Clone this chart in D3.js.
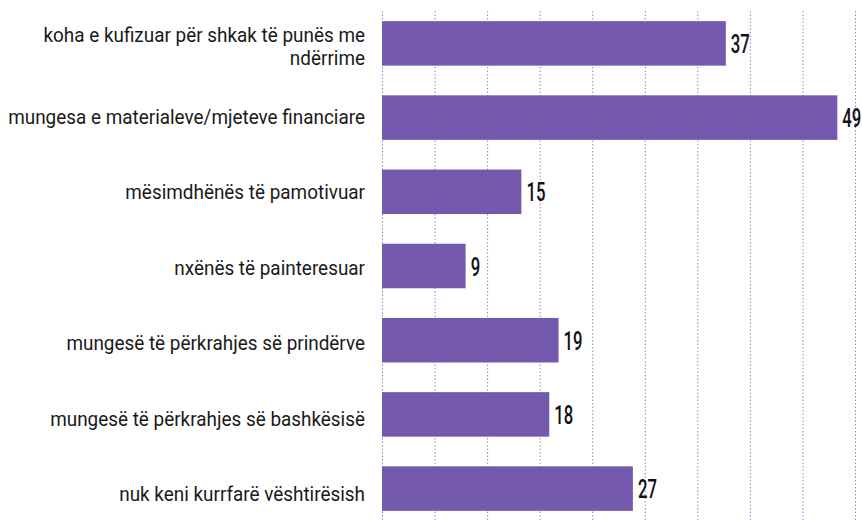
<!DOCTYPE html>
<html>
<head>
<meta charset="utf-8">
<script src="https://cdn.jsdelivr.net/npm/d3@7"></script>
<style>
  html, body { margin: 0; padding: 0; background: #fff; }
  svg { display: block; }
</style>
</head>
<body>
<svg id="chart" width="862" height="520"></svg>
<script>
// ---- data ----
const categories = [
  ["koha e kufizuar për shkak të punës me", "ndërrime"],
  ["mungesa e materialeve/mjeteve financiare"],
  ["mësimdhënës të pamotivuar"],
  ["nxënës të painteresuar"],
  ["mungesë të përkrahjes së prindërve"],
  ["mungesë të përkrahjes së bashkësisë"],
  ["nuk keni kurrfarë vështirësish"]
];
const values = [37, 49, 15, 9, 19, 18, 27];
const xMax = 50.9;          // axis extent
const gridDivisions = 9;    // dotted gridlines divide axis into 9 parts

// ---- layout ----
const W = 862, H = 520;
const x0 = 382, x1 = 855;
const svg = d3.select("#chart");

const x = d3.scaleLinear().domain([0, xMax]).range([x0, x1]);
const y = d3.scaleBand()
  .domain(d3.range(categories.length))
  .range([6.3, 525.7])
  .paddingInner(0.4)
  .paddingOuter(0.2);

const gridTicks = d3.range(gridDivisions + 1).map(i => i * xMax / gridDivisions);

// gridlines
const grid = svg.append("g")
  .attr("transform", `translate(0,${H})`)
  .call(d3.axisTop(x).tickValues(gridTicks).tickSize(H - 10).tickFormat(""));
grid.select(".domain").remove();
grid.selectAll(".tick line")
  .attr("stroke", "#9283c8")
  .attr("stroke-width", 1)
  .attr("stroke-dasharray", "1.5,2");

// bars
svg.append("g").selectAll("rect")
  .data(values)
  .join("rect")
  .attr("x", x(0))
  .attr("y", (d, i) => y(i))
  .attr("width", d => x(d) - x(0))
  .attr("height", y.bandwidth())
  .attr("fill", "#7559ae");

// category labels
const labelFont = "Roboto, 'Liberation Sans', sans-serif";
const labelsG = svg.append("g");
const labelGroups = labelsG.selectAll("g")
  .data(categories)
  .join("g");
labelGroups.each(function(lines, i) {
  const g = d3.select(this);
  const cy = y(i) + y.bandwidth() / 2;
  const base = lines.length === 1 ? cy + 5 + i * 1.3 : cy - 1.5;
  lines.forEach((t, k) => {
    g.append("text")
      .attr("x", 0)
      .attr("y", base + k * 23)
      .attr("text-anchor", "end")
      .attr("font-family", labelFont)
      .attr("font-size", 20)
      .attr("fill", "#1a1a1a")
      .text(t);
  });
});
let maxW = 0;
labelsG.selectAll("text").each(function() { maxW = Math.max(maxW, this.getComputedTextLength()); });
const sxLabel = 357 / maxW;
labelGroups.attr("transform", `translate(365,0) scale(${sxLabel},1)`);

// value labels
const valG = svg.append("g");
const vals = valG.selectAll("text")
  .data(values)
  .join("text")
  .attr("text-anchor", "start")
  .attr("font-family", labelFont)
  .attr("font-weight", 500)
  .attr("font-size", 26)
  .attr("fill", "#111")
  .text(d => d);
const probe = valG.append("text").attr("font-family", labelFont).attr("font-weight", 500).attr("font-size", 26).text("37");
const digitW = probe.node().getComputedTextLength();
probe.remove();
const sxVal = 19 / digitW;
vals.attr("transform", (d, i) => {
  const cy = y(i) + y.bandwidth() / 2;
  return `translate(${x(d) + 5},${cy + 9.5}) scale(${sxVal},1)`;
});
</script>
</body>
</html>
